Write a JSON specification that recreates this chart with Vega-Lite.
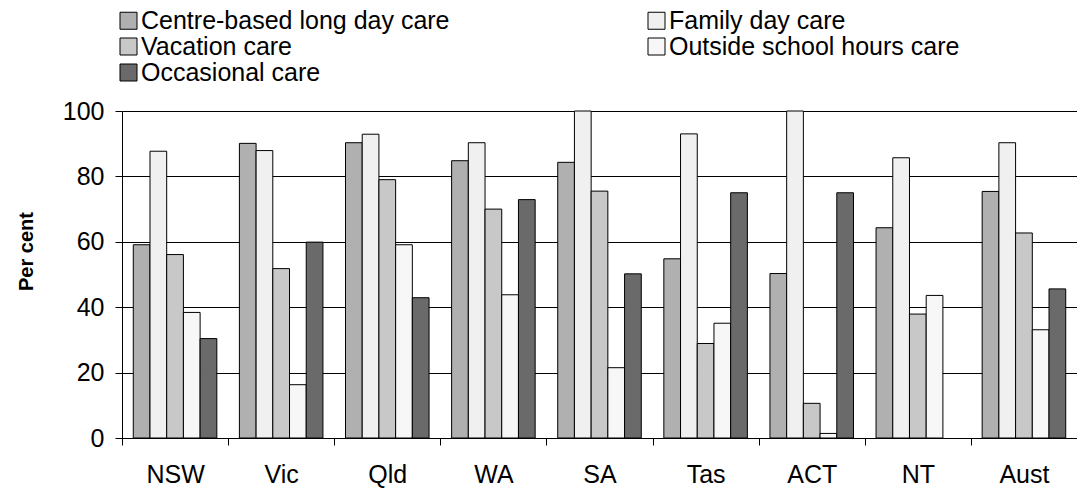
{
  "$schema": "https://vega.github.io/schema/vega-lite/v6.json",
  "width": 955,
  "height": 327,
  "autosize": {"type": "none"},
  "padding": {"left": 122, "top": 111, "right": 0, "bottom": 52},
  "background": "white",
  "config": {"view": {"stroke": null}, "font": "Liberation Sans"},
  "data": {
    "values": [
      {"region": "NSW", "type": "Centre-based long day care", "value": 59.1},
      {"region": "NSW", "type": "Family day care", "value": 87.7},
      {"region": "NSW", "type": "Vacation care", "value": 56.1},
      {"region": "NSW", "type": "Outside school hours care", "value": 38.4},
      {"region": "NSW", "type": "Occasional care", "value": 30.4},
      {"region": "Vic", "type": "Centre-based long day care", "value": 90.1},
      {"region": "Vic", "type": "Family day care", "value": 87.9},
      {"region": "Vic", "type": "Vacation care", "value": 51.8},
      {"region": "Vic", "type": "Outside school hours care", "value": 16.3},
      {"region": "Vic", "type": "Occasional care", "value": 59.9},
      {"region": "Qld", "type": "Centre-based long day care", "value": 90.3},
      {"region": "Qld", "type": "Family day care", "value": 92.9},
      {"region": "Qld", "type": "Vacation care", "value": 79.0},
      {"region": "Qld", "type": "Outside school hours care", "value": 59.1},
      {"region": "Qld", "type": "Occasional care", "value": 42.9},
      {"region": "WA", "type": "Centre-based long day care", "value": 84.8},
      {"region": "WA", "type": "Family day care", "value": 90.3},
      {"region": "WA", "type": "Vacation care", "value": 70.0},
      {"region": "WA", "type": "Outside school hours care", "value": 43.8},
      {"region": "WA", "type": "Occasional care", "value": 72.9},
      {"region": "SA", "type": "Centre-based long day care", "value": 84.3},
      {"region": "SA", "type": "Family day care", "value": 100},
      {"region": "SA", "type": "Vacation care", "value": 75.5},
      {"region": "SA", "type": "Outside school hours care", "value": 21.5},
      {"region": "SA", "type": "Occasional care", "value": 50.2},
      {"region": "Tas", "type": "Centre-based long day care", "value": 54.8},
      {"region": "Tas", "type": "Family day care", "value": 93.0},
      {"region": "Tas", "type": "Vacation care", "value": 28.9},
      {"region": "Tas", "type": "Outside school hours care", "value": 35.1},
      {"region": "Tas", "type": "Occasional care", "value": 75.0},
      {"region": "ACT", "type": "Centre-based long day care", "value": 50.3},
      {"region": "ACT", "type": "Family day care", "value": 100},
      {"region": "ACT", "type": "Vacation care", "value": 10.6},
      {"region": "ACT", "type": "Outside school hours care", "value": 1.4},
      {"region": "ACT", "type": "Occasional care", "value": 75.0},
      {"region": "NT", "type": "Centre-based long day care", "value": 64.3},
      {"region": "NT", "type": "Family day care", "value": 85.7},
      {"region": "NT", "type": "Vacation care", "value": 37.9},
      {"region": "NT", "type": "Outside school hours care", "value": 43.6},
      {"region": "Aust", "type": "Centre-based long day care", "value": 75.4},
      {"region": "Aust", "type": "Family day care", "value": 90.3},
      {"region": "Aust", "type": "Vacation care", "value": 62.7},
      {"region": "Aust", "type": "Outside school hours care", "value": 33.1},
      {"region": "Aust", "type": "Occasional care", "value": 45.6}
    ]
  },
  "mark": {"type": "bar", "stroke": "black", "strokeWidth": 1},
  "encoding": {
    "x": {
      "field": "region",
      "type": "nominal",
      "sort": ["NSW", "Vic", "Qld", "WA", "SA", "Tas", "ACT", "NT", "Aust"],
      "scale": {"paddingInner": 0, "paddingOuter": 0},
      "axis": {
        "title": null,
        "labelAngle": 0,
        "labelFontSize": 25,
        "labelColor": "black",
        "domainColor": "black",
        "tickColor": "black",
        "tickSize": 7,
        "tickBand": "extent",
        "labelPadding": 17,
        "grid": false
      }
    },
    "xOffset": {
      "field": "type",
      "type": "nominal",
      "sort": ["Centre-based long day care", "Family day care", "Vacation care", "Outside school hours care", "Occasional care"],
      "scale": {"paddingInner": 0, "paddingOuter": 0.675}
    },
    "y": {
      "field": "value",
      "type": "quantitative",
      "scale": {"domain": [0, 100]},
      "axis": {
        "values": [0, 20, 40, 60, 80, 100],
        "labelFontSize": 25,
        "labelColor": "black",
        "tickSize": 7,
        "labelPadding": 11,
        "grid": true,
        "gridColor": "black",
        "gridOpacity": 1,
        "domainColor": "black",
        "tickColor": "black",
        "title": "Per cent",
        "titleFontSize": 20,
        "titleFontWeight": "bold",
        "titleColor": "black",
        "titleAngle": -90,
        "titleAlign": "center",
        "titleBaseline": "alphabetic",
        "titleX": -90,
        "titleY": 140
      }
    },
    "color": {
      "field": "type",
      "type": "nominal",
      "scale": {
        "domain": ["Centre-based long day care", "Vacation care", "Occasional care", "Family day care", "Outside school hours care"],
        "range": ["#b0b0b0", "#c8c8c8", "#6a6a6a", "#f0f0f0", "#f7f7f7"]
      },
      "legend": {
        "orient": "none",
        "legendX": -6,
        "legendY": -103,
        "columns": 2,
        "columnPadding": 194,
        "rowPadding": 0,
        "padding": 0,
        "title": null,
        "symbolType": "square",
        "symbolSize": 289,
        "symbolStrokeColor": "black",
        "symbolStrokeWidth": 1,
        "symbolOpacity": 1,
        "labelFontSize": 25,
        "labelColor": "black",
        "labelOffset": 0,
        "labelLimit": 600
      }
    }
  }
}
